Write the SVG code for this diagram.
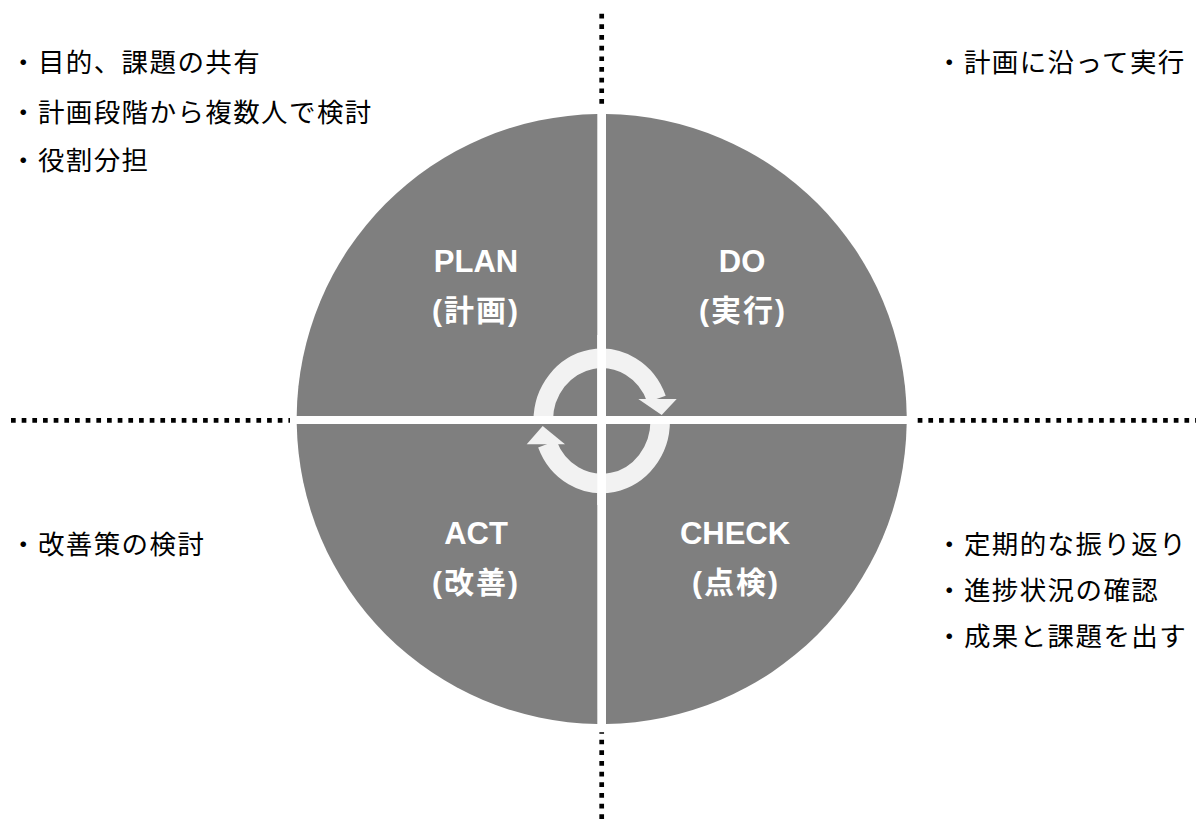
<svg xmlns="http://www.w3.org/2000/svg" width="1196" height="823" viewBox="0 0 1196 823">
  <style>
    .quad { fill: #7f7f7f; }
    .lbl { fill: #ffffff; font-family: "Liberation Sans", "Noto Sans CJK JP", sans-serif; font-weight: bold; text-anchor: middle; }
    .en { font-size: 31px; }
    .jp { font-size: 30px; letter-spacing: 2px; }
    .note { fill: #000000; font-family: "Noto Sans CJK JP", sans-serif; font-size: 26.5px; letter-spacing: 1.4px; }
    .dots { stroke: #000000; stroke-width: 4.7; stroke-dasharray: 4.7 5.97; fill: none; }
    .ring { fill: none; stroke: #f2f2f2; stroke-width: 19.5; }
    .head { fill: #f2f2f2; }
    .gap { stroke: #ffffff; }
  </style>

  <rect width="1196" height="823" fill="#ffffff"/>

  <!-- dotted axes dividing the four note areas -->
  <g id="connectors">
    <line class="dots" x1="601.7" y1="13.7" x2="601.7" y2="104"/>
    <line class="dots" x1="601.7" y1="732.3" x2="601.7" y2="819" stroke-dashoffset="3.3"/>
    <line class="dots" x1="11" y1="420.3" x2="290" y2="420.3"/>
    <line class="dots" x1="917.7" y1="420.3" x2="1196" y2="420.3"/>
  </g>

  <!-- four quadrants of the cycle -->
  <g id="plan">
    <path class="quad" d="M597.3,416 L597.3,114.03 A305,305 0 0 0 296.7,416 Z"/>
    <text class="lbl en" x="476" y="272">PLAN</text>
    <text class="lbl jp" x="476" y="321">(計画)</text>
  </g>
  <g id="do">
    <path class="quad" d="M606,416 L606,114.03 A305,305 0 0 1 906.7,416 Z"/>
    <text class="lbl en" x="742" y="272">DO</text>
    <text class="lbl jp" x="743" y="321">(実行)</text>
  </g>
  <g id="act">
    <path class="quad" d="M597.3,424 L597.3,723.97 A305,305 0 0 1 296.74,424 Z"/>
    <text class="lbl en" x="476" y="544">ACT</text>
    <text class="lbl jp" x="476" y="593">(改善)</text>
  </g>
  <g id="check">
    <path class="quad" d="M606,424 L606,723.97 A305,305 0 0 0 906.66,424 Z"/>
    <text class="lbl en" x="735" y="544">CHECK</text>
    <text class="lbl jp" x="736" y="593">(点検)</text>
  </g>

  <!-- circular arrows in the centre -->
  <g id="cycle">
    <path class="ring" d="M543.2,421 A58.5,62.5 0 0 1 656.5,399"/>
    <polygon class="head" points="638.3,399 676.7,399 661.7,415"/>
    <path class="ring" d="M660.2,421 A58.5,62.5 0 0 1 547.3,444"/>
    <polygon class="head" points="526.7,444.3 565,444.3 542.7,426"/>
    <line class="gap" x1="601.65" y1="335" x2="601.65" y2="505" stroke-width="8.7"/>
    <line class="gap" x1="520" y1="420" x2="685" y2="420" stroke-width="8"/>
  </g>

  <!-- notes for each phase -->
  <g id="plan-notes">
    <text class="note" x="10" y="72">・目的、課題の共有</text>
    <text class="note" x="10" y="122">・計画段階から複数人で検討</text>
    <text class="note" x="10" y="170">・役割分担</text>
  </g>
  <g id="do-notes">
    <text class="note" x="936" y="72">・計画に沿って実行</text>
  </g>
  <g id="act-notes">
    <text class="note" x="10" y="554">・改善策の検討</text>
  </g>
  <g id="check-notes">
    <text class="note" x="936" y="554">・定期的な振り返り</text>
    <text class="note" x="936" y="600">・進捗状況の確認</text>
    <text class="note" x="936" y="646">・成果と課題を出す</text>
  </g>
</svg>
